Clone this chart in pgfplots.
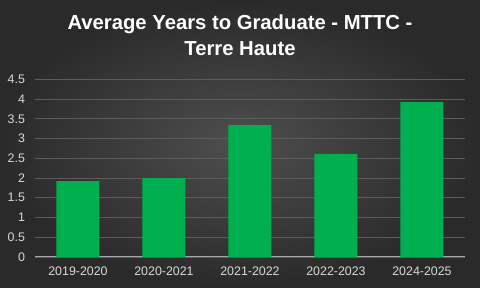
\documentclass[border=0pt]{standalone}
\usepackage{pgfplots}
\pgfplotsset{compat=1.18}
\usepackage{fontspec}
\setmainfont{Liberation Sans}
\definecolor{bargreen}{HTML}{00B050}
\definecolor{bgin}{HTML}{4E4E4E}
\definecolor{bgout}{HTML}{2A2A2A}
\definecolor{gridc}{HTML}{5C5C5C}
\definecolor{axc}{HTML}{A6A6A6}
\definecolor{tickc}{HTML}{D9D9D9}
\begin{document}
\begin{tikzpicture}[x=1pt,y=1pt]
\useasboundingbox (0,0) rectangle (360,216);
\shade[inner color=bgin, outer color=bgout] (0,0) rectangle (360,216);
\node[text=white, align=center, font=\fontsize{15.2}{20}\selectfont\bfseries] at (180,189.5) {Average Years to Graduate - MTTC -\\Terre Haute};
\begin{axis}[
  at={(26.25pt,23.25pt)}, anchor=south west, scale only axis,
  width=322.5pt, height=133.3pt,
  xmin=-0.5, xmax=4.5, ymin=0, ymax=4.5,
  ybar, bar width=32.25pt,
  xtick=data, xticklabels={2019-2020,2020-2021,2021-2022,2022-2023,2024-2025},
  ytick={0,0.5,1,1.5,2,2.5,3,3.5,4,4.5},
  yticklabels={0,0.5,1,1.5,2,2.5,3,3.5,4,4.5},
  axis x line*=bottom, axis y line*=left,
  y axis line style={draw=none},
  x axis line style={draw=axc, line width=0.75pt, -},
  major tick length=0pt,
  ymajorgrids, grid style={draw=gridc, line width=0.6pt},
  tick label style={text=tickc, font=\fontsize{9.3}{11}\selectfont},
  yticklabel style={xshift=-4pt},
  xticklabel style={yshift=-3.5pt},
]
\addplot[fill=bargreen, draw=none] coordinates {(0,1.92) (1,2.0) (2,3.34) (3,2.61) (4,3.92)};
\end{axis}
\end{tikzpicture}
\end{document}
